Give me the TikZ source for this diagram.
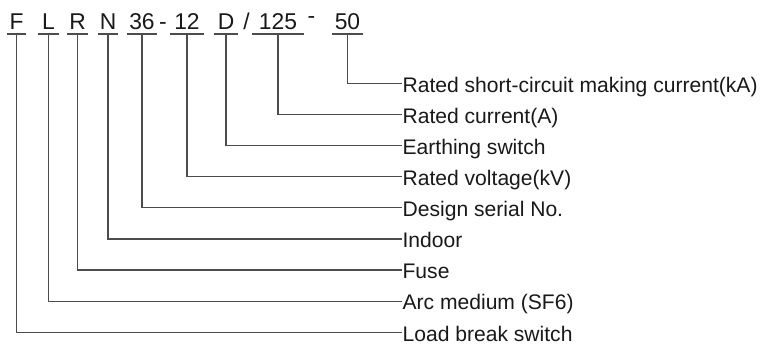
\documentclass[tikz,border=0pt]{standalone}
\usepackage{fontspec}
\setmainfont{Liberation Sans}
\usetikzlibrary{positioning}

\begin{document}
\begin{tikzpicture}[x=0.02cm,y=-0.02cm,line width=0.7pt,color=black!70,
  code/.style={font=\fontsize{13}{15}\selectfont,text=black!90,inner xsep=0pt,inner ysep=0pt,text depth=0.07cm,anchor=base},
  lbl/.style={font=\fontsize{12}{14}\selectfont,text=black!90,inner sep=0pt,text height=1em,text depth=0pt,anchor=west}]
  \useasboundingbox (0,0) rectangle (762,344);

  % type code
  \node[code,minimum width=0.34cm] (F) at (16.5,30) {F};
  \node[code,minimum width=0.38cm] (L) at (48.5,30) {L};
  \node[code,minimum width=0.38cm] (R) at (77.5,30) {R};
  \node[code,minimum width=0.36cm] (N) at (108,30) {N};
  \node[code,minimum width=0.56cm] (n36) at (142,30) {36};
  \node[code] (s1) at (163,30) {-};
  \node[code,minimum width=0.64cm] (n12) at (187,30) {12};
  \node[code,minimum width=0.44cm] (D) at (226,30) {D};
  \node[code] (s2) at (246.5,30) {/};
  \node[code,minimum width=1.0cm] (n125) at (278,30) {125};
  \node[code] (s3) at (311.5,24) {-};
  \node[code,minimum width=0.58cm] (n50) at (347.5,30) {50};

  % meanings
  \node[lbl] (scm) at (402,83.5) {Rated short-circuit making current(kA)};
  \node[below=0.622cm of scm.west,lbl] (rc) {Rated current(A)};
  \node[below=0.622cm of rc.west,lbl] (es) {Earthing switch};
  \node[below=0.622cm of es.west,lbl] (rv) {Rated voltage(kV)};
  \node[below=0.622cm of rv.west,lbl] (dsn) {Design serial No.};
  \node[below=0.622cm of dsn.west,lbl] (indoor) {Indoor};
  \node[below=0.622cm of indoor.west,lbl] (fuse) {Fuse};
  \node[below=0.622cm of fuse.west,lbl] (arc) {Arc medium (SF6)};
  \node[below=0.622cm of arc.west,lbl] (lbs) {Load break switch};

  \draw (n50.south west)--(n50.south east) (n50.south)|-(scm.west);
  \draw (n125.south west)--(n125.south east) (n125.south)|-(rc.west);
  \draw (D.south west)--(D.south east) (D.south)|-(es.west);
  \draw (n12.south west)--(n12.south east) (n12.south)|-(rv.west);
  \draw (n36.south west)--(n36.south east) (n36.south)|-(dsn.west);
  \draw (N.south west)--(N.south east) (N.south)|-(indoor.west);
  \draw (R.south west)--(R.south east) (R.south)|-(fuse.west);
  \draw (L.south west)--(L.south east) (L.south)|-(arc.west);
  \draw (F.south west)--(F.south east) (F.south)|-(lbs.west);
\end{tikzpicture}
\end{document}
